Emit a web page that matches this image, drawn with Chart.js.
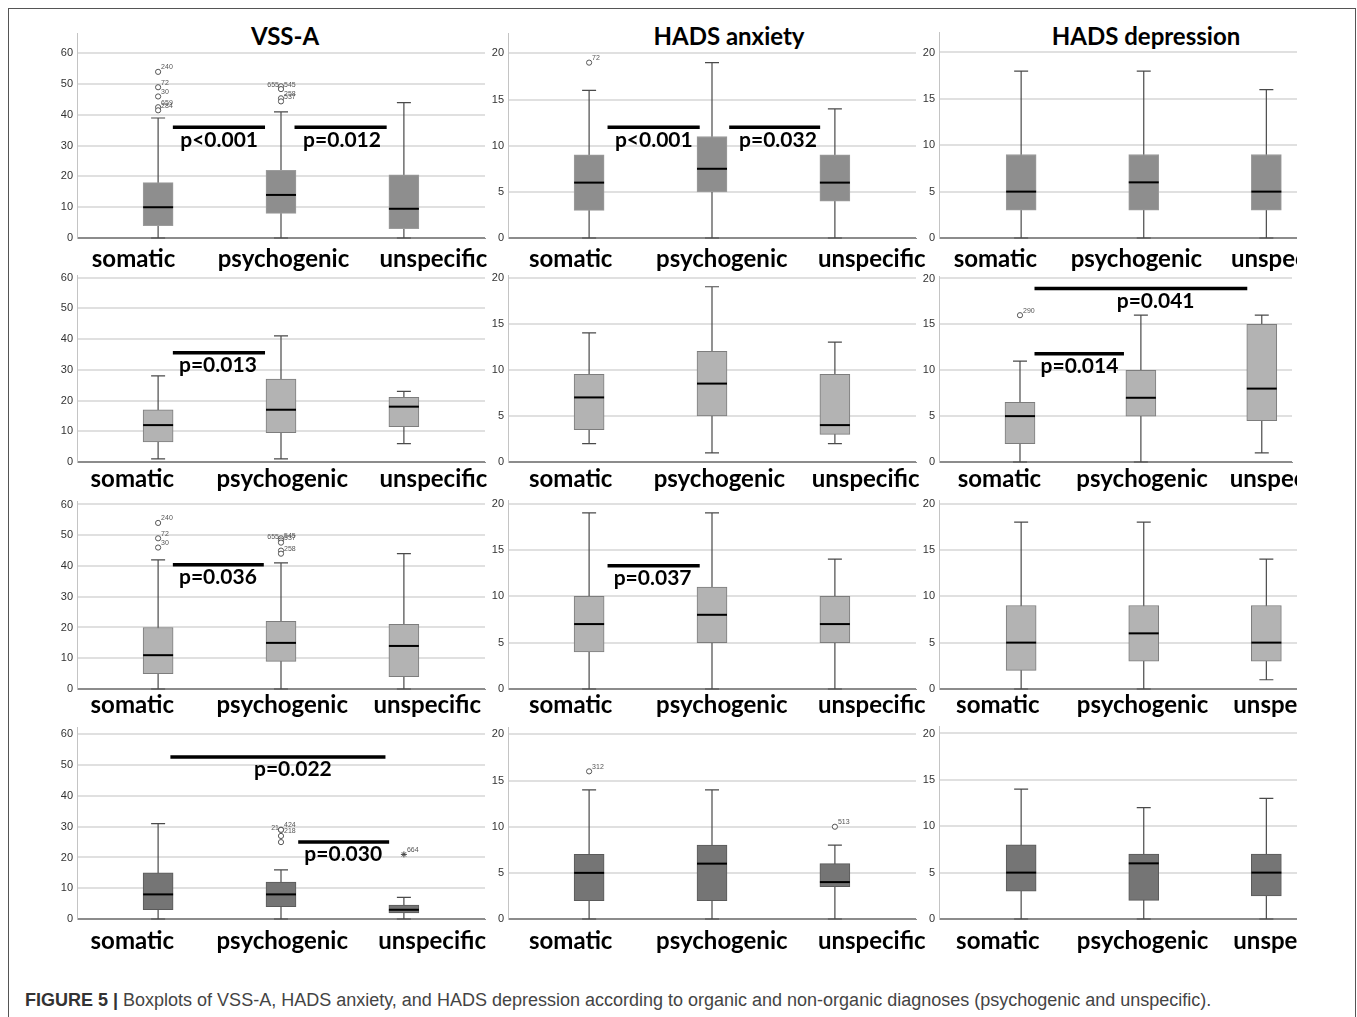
<!DOCTYPE html>
<html>
<head>
<meta charset="utf-8">
<script src="https://cdn.jsdelivr.net/npm/chart.js@4.4.1/dist/chart.umd.min.js"></script>
<style>
  body { margin: 0; background: #fff; width: 1357px; height: 1017px; overflow: hidden; position: relative; }
  #frame { position: absolute; left: 8px; top: 8px; width: 1346px; height: 1040px; border: 1px solid #555; }
  canvas { position: absolute; }
  .title { position: absolute; top: 21px; font: bold 24px Lato; color: #000; transform: translateX(-50%); white-space: nowrap; }
  #caption { position: absolute; left: 25px; top: 990px; font: 18px "Liberation Sans"; color: #444; white-space: nowrap; }
  #caption b { color: #333; }
</style>
</head>
<body>
<div id="frame"></div>
<div class="title" style="left:285px">VSS-A</div>
<div class="title" style="left:729px">HADS anxiety</div>
<div class="title" style="left:1146px">HADS depression</div>
<div id="caption"><b>FIGURE 5 |</b> Boxplots of VSS-A, HADS anxiety, and HADS depression according to organic and non-organic diagnoses (psychogenic and unspecific).</div>
<script>
const categories = ["somatic", "psychogenic", "unspecific"];
const vssTicks = [0, 10, 20, 30, 40, 50, 60];
const hadsTicks = [0, 5, 10, 15, 20];

// VSS-A, rows 1-4
const vss1 = { q1: [4, 8, 3], median: [10, 14, 9.5], q3: [18, 22, 20.5], lo: [0, 0, 0], hi: [39, 41, 44] };
const vss2 = { q1: [6.5, 9.5, 11.5], median: [12, 17, 18], q3: [17, 27, 21], lo: [1, 1, 6], hi: [28, 41, 23] };
const vss3 = { q1: [5, 9, 4], median: [11, 15, 14], q3: [20, 22, 21], lo: [0, 0, 0], hi: [42, 41, 44] };
const vss4 = { q1: [3, 4, 2], median: [8, 8, 3], q3: [15, 12, 4.5], lo: [0, 0, 0], hi: [31, 16, 7] };
// HADS anxiety
const anx1 = { q1: [3, 5, 4], median: [6, 7.5, 6], q3: [9, 11, 9], lo: [0, 0, 0], hi: [16, 19, 14] };
const anx2 = { q1: [3.5, 5, 3], median: [7, 8.5, 4], q3: [9.5, 12, 9.5], lo: [2, 1, 2], hi: [14, 19, 13] };
const anx3 = { q1: [4, 5, 5], median: [7, 8, 7], q3: [10, 11, 10], lo: [0, 0, 0], hi: [19, 19, 14] };
const anx4 = { q1: [2, 2, 3.5], median: [5, 6, 4], q3: [7, 8, 6], lo: [0, 0, 0], hi: [14, 14, 8] };
// HADS depression
const dep1 = { q1: [3, 3, 3], median: [5, 6, 5], q3: [9, 9, 9], lo: [0, 0, 0], hi: [18, 18, 16] };
const dep2 = { q1: [2, 5, 4.5], median: [5, 7, 8], q3: [6.5, 10, 15], lo: [0, 0, 1], hi: [11, 16, 16] };
const dep3 = { q1: [2, 3, 3], median: [5, 6, 5], q3: [9, 9, 9], lo: [0, 0, 1], hi: [18, 18, 14] };
const dep4 = { q1: [3, 2, 2.5], median: [5, 6, 5], q3: [8, 7, 7], lo: [0, 0, 0], hi: [14, 12, 13] };

// outliers: [category, value, case number]
const vss1Out = [[0, 54, "240"], [0, 49, "72"], [0, 46, "30"], [0, 42.5, "659"], [0, 41.5, "284"],
                 [1, 49.3, "655"], [1, 48.4, "545"], [1, 45.4, "258"], [1, 44.4, "537"]];
const vss3Out = [[0, 54, "240"], [0, 49, "72"], [0, 46, "30"],
                 [1, 49, "655"], [1, 48.3, "545"], [1, 47.6, "537"], [1, 45, ""], [1, 44, "258"]];
const vss4Out = [[1, 29, "424"], [1, 29, "21"], [1, 27, "218"], [1, 25, ""]];
const vss4Extreme = [[2, 21, "664"]];
const anx1Out = [[0, 19, "72"]];
const anx4Out = [[0, 16, "312"], [2, 10, "513"]];
const dep2Out = [[0, 16, "290"]];
const leftIds = ["655", "21"];

// significance bars: [from, to, value, text, text start]
const vss1P = [[0.12, 0.87, 36, "p<0.001", 0.18], [1.11, 1.86, 36, "p=0.012", 1.18]];
const anx1P = [[0.15, 0.90, 12, "p<0.001", 0.21], [1.14, 1.88, 12, "p=0.032", 1.22]];
const vss2P = [[0.12, 0.87, 35.5, "p=0.013", 0.17]];
const dep2P = [[0.12, 0.86, 11.8, "p=0.014", 0.17], [0.12, 1.88, 18.9, "p=0.041", 0.80]];
const vss3P = [[0.12, 0.86, 40.4, "p=0.036", 0.17]];
const anx3P = [[0.15, 0.90, 13.3, "p=0.037", 0.20]];
const vss4P = [[0.10, 1.85, 52.7, "p=0.022", 0.78], [1.14, 1.88, 25, "p=0.030", 1.19]];

// layout of the 3x4 grid
const axisX = [77, 508, 939];
const plotRight = [485, 916, 1297];
const extraRight = [22, 22, 0];
const xMin = [-0.66, -0.66, -0.67];
const xMax = [2.66, 2.66, 2.25];
const axisTop = [32, 275, 500, 726];
const zeroY = [238, 462, 689, 919];
const yStretch = [1.1105, 1.0136, 1.0189, 1.0404];
const labelPad = [-1, -5.5, -6, 0];
const boxFill = ["#8e8e8e", "#b3b3b3", "#b3b3b3", "#757575"];
const boxEdge = ["#9c9c9c", "#7d7d7d", "#7d7d7d", "#5a5a5a"];
const labelPos = [
  [[-0.20, 1.02, 2.24], [-0.15, 1.08, 2.30], [-0.21, 0.94, 2.15]],
  [[-0.21, 1.01, 2.24], [-0.15, 1.06, 2.25], [-0.17, 1.01, 2.18]],
  [[-0.21, 1.01, 2.19], [-0.15, 1.08, 2.30], [-0.19, 0.99, 2.17]],
  [[-0.21, 1.01, 2.23], [-0.15, 1.08, 2.30], [-0.19, 0.99, 2.17]]
];

const boxExtras = {
  id: "boxExtras",
  beforeDatasetsDraw(chart) {
    const { ctx, scales: { x, y } } = chart;
    const s = chart.data.datasets.find(d => d.stats).stats;
    ctx.save();
    ctx.strokeStyle = "#4a4a4a";
    ctx.lineWidth = 1.2;
    s.lo.forEach((lo, i) => {
      const px = x.getPixelForValue(i);
      const yl = y.getPixelForValue(lo), yh = y.getPixelForValue(s.hi[i]);
      ctx.beginPath();
      ctx.moveTo(px, yl); ctx.lineTo(px, yh);
      ctx.moveTo(px - 7, yl); ctx.lineTo(px + 7, yl);
      ctx.moveTo(px - 7, yh); ctx.lineTo(px + 7, yh);
      ctx.stroke();
    });
    ctx.restore();
  },
  afterDatasetsDraw(chart, args, opts) {
    const { ctx, scales: { x, y } } = chart;
    const s = chart.data.datasets.find(d => d.stats).stats;
    ctx.save();
    // medians
    ctx.strokeStyle = "#000";
    ctx.lineWidth = 2;
    s.median.forEach((m, i) => {
      const px = x.getPixelForValue(i), py = y.getPixelForValue(m);
      ctx.beginPath(); ctx.moveTo(px - 15, py); ctx.lineTo(px + 15, py); ctx.stroke();
    });
    // case numbers next to outliers
    ctx.font = "7px 'Liberation Sans'";
    ctx.fillStyle = "#555";
    ctx.textBaseline = "bottom";
    chart.data.datasets.filter(d => d.type === "scatter").forEach(d => {
      d.data.forEach(p => {
        const px = x.getPixelForValue(p.x), py = y.getPixelForValue(p.y);
        if (leftIds.includes(p.id)) { ctx.textAlign = "right"; ctx.fillText(p.id, px - 2, py + 2); }
        else { ctx.textAlign = "left"; ctx.fillText(p.id, px + 3, py - 1); }
      });
    });
    // significance bars
    ctx.textAlign = "left";
    ctx.textBaseline = "top";
    ctx.font = "bold 21px Lato";
    ctx.fillStyle = "#000";
    ctx.lineWidth = 3.5;
    (opts.pvals || []).forEach(p => {
      const py = y.getPixelForValue(p[2]);
      ctx.beginPath();
      ctx.moveTo(x.getPixelForValue(p[0]), py);
      ctx.lineTo(x.getPixelForValue(p[1]), py);
      ctx.stroke();
      ctx.fillText(p[3], x.getPixelForValue(p[4]), py + 2);
    });
    ctx.restore();
  }
};

function makePanel(r, c, s, outl, pv, extr) {
  const ticks = c === 0 ? vssTicks : hadsTicks;
  const left = axisX[c] - 50;
  const top = axisTop[r] - 4;
  const cv = document.createElement("canvas");
  cv.width = plotRight[c] + extraRight[c] - left;
  cv.height = zeroY[r] + 45 - top;
  cv.style.left = left + "px";
  cv.style.top = top + "px";
  document.body.appendChild(cv);

  new Chart(cv, {
    type: "bar",
    data: {
      datasets: [
        {
          type: "scatter",
          data: (outl || []).map(o => ({ x: o[0], y: o[1], id: o[2] })),
          pointStyle: "circle", pointRadius: 2.6,
          backgroundColor: "#fff", borderColor: "#555", borderWidth: 1
        },
        {
          type: "scatter",
          data: (extr || []).map(o => ({ x: o[0], y: o[1], id: o[2] })),
          pointStyle: "star", pointRadius: 3,
          backgroundColor: "#444", borderColor: "#444", borderWidth: 1
        },
        {
          type: "bar",
          data: categories.map((_, i) => ({ x: i, y: [s.q1[i], s.q3[i]] })),
          backgroundColor: boxFill[r], borderColor: boxEdge[r],
          borderWidth: 1, borderSkipped: false, barThickness: 30,
          stats: s
        }
      ]
    },
    options: {
      responsive: false,
      animation: false,
      events: [],
      layout: { padding: { top: 4, left: 0, right: extraRight[c], bottom: 0 } },
      plugins: { legend: { display: false }, tooltip: { enabled: false }, boxExtras: { pvals: pv } },
      scales: {
        x: {
          type: "linear", min: xMin[c], max: xMax[c], offset: false,
          grid: { display: false, offset: false },
          border: { display: true, color: "#8c8c8c", width: 1 },
          afterBuildTicks: a => { a.ticks = labelPos[r][c].map(v => ({ value: v })); },
          afterFit: a => { a.height = 45; a.paddingLeft = 0; a.paddingRight = 0; },
          ticks: {
            autoSkip: false, maxRotation: 0, minRotation: 0, padding: labelPad[r],
            color: "#000", font: { family: "Lato", weight: "bold", size: 24 },
            callback: (v, i) => categories[i]
          }
        },
        y: {
          type: "linear", min: 0, max: ticks[ticks.length - 1] * yStretch[r],
          grid: {
            drawTicks: false, lineWidth: 2,
            color: ctx => (ctx.tick && ctx.tick.value === 0 ? "#8c8c8c" : "#e0e0e0")
          },
          border: { display: true, color: "#c4c4c4", width: 1 },
          afterBuildTicks: a => { a.ticks = ticks.map(v => ({ value: v })); },
          afterFit: a => { a.width = 50; a.paddingTop = 0; a.paddingBottom = 0; },
          ticks: { padding: 4, color: "#333", font: { family: "Liberation Sans", size: 11 } }
        }
      }
    },
    plugins: [boxExtras]
  });
}

makePanel(0, 0, vss1, vss1Out, vss1P);
makePanel(0, 1, anx1, anx1Out, anx1P);
makePanel(0, 2, dep1);
makePanel(1, 0, vss2, null, vss2P);
makePanel(1, 1, anx2);
makePanel(1, 2, dep2, dep2Out, dep2P);
makePanel(2, 0, vss3, vss3Out, vss3P);
makePanel(2, 1, anx3, null, anx3P);
makePanel(2, 2, dep3);
makePanel(3, 0, vss4, vss4Out, vss4P, vss4Extreme);
makePanel(3, 1, anx4, anx4Out);
makePanel(3, 2, dep4);
</script>
</body>
</html>
